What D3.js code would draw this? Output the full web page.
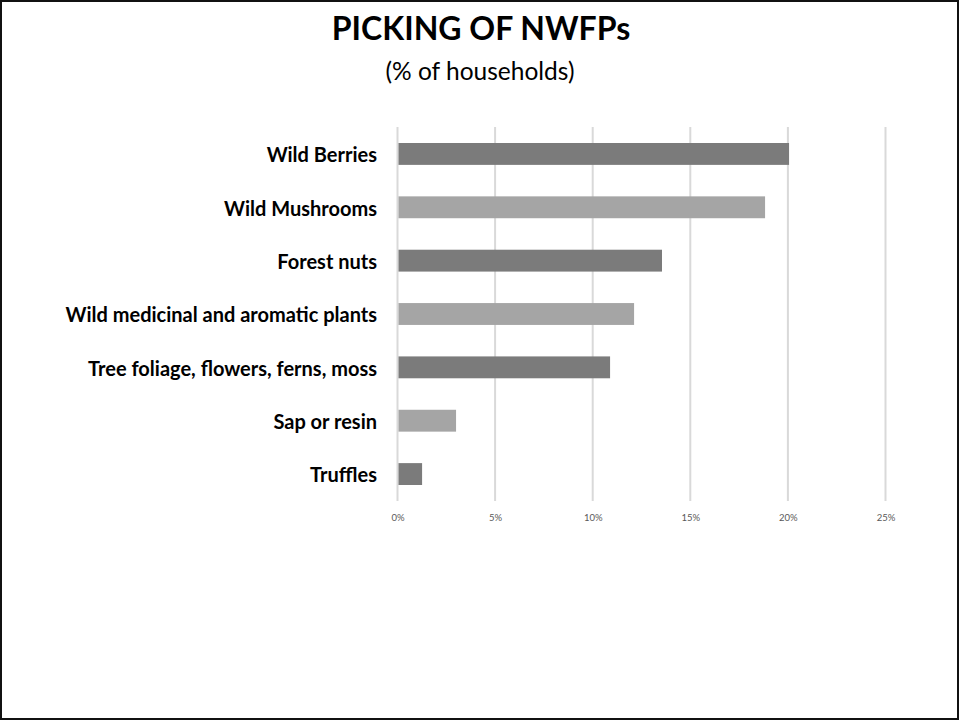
<!DOCTYPE html>
<html>
<head>
<meta charset="utf-8">
<script src="https://cdn.jsdelivr.net/npm/d3@7"></script>
<style>
  html, body { margin: 0; padding: 0; background: #fff; }
  svg { display: block; }
</style>
</head>
<body>
<svg id="chart" width="959" height="720"></svg>
<script>
const categories = ["Wild Berries", "Wild Mushrooms", "Forest nuts", "Wild medicinal and aromatic plants", "Tree foliage, flowers, ferns, moss", "Sap or resin", "Truffles"];
const values = [20.06, 18.83, 13.55, 12.12, 10.89, 3.0, 1.26];
const tickValues = [0, 5, 10, 15, 20, 25];
const tickLabels = ["0%", "5%", "10%", "15%", "20%", "25%"];
const barColors = ["#7b7b7b", "#a5a5a5"];

const svg = d3.select("#chart");
const W = 959, H = 720;
const fontFamily = "Lato, 'Open Sans', 'Liberation Sans', sans-serif";

// border
svg.append("rect").attr("x", 1).attr("y", 1).attr("width", W - 2).attr("height", H - 2)
  .attr("fill", "#fff").attr("stroke", "#111").attr("stroke-width", 2);

// title
svg.append("text").attr("x", 481).attr("y", 40).attr("text-anchor", "middle")
  .attr("font-family", fontFamily).attr("font-weight", "bold").attr("font-size", 32)
  .attr("fill", "#000").text("PICKING OF NWFPs");
svg.append("text").attr("x", 480).attr("y", 80).attr("text-anchor", "middle")
  .attr("font-family", fontFamily).attr("font-size", 24.5)
  .attr("fill", "#000").text("(% of households)");

const x = d3.scaleLinear().domain([0, 25]).range([397.5, 885.5]);
const y = d3.scaleBand().domain(categories).range([127, 501]).paddingInner(0.59).paddingOuter(0.3);

// gridlines
svg.append("g").selectAll("line").data(tickValues).join("line")
  .attr("x1", d => x(d)).attr("x2", d => x(d))
  .attr("y1", 127).attr("y2", 501)
  .attr("stroke", "#d9d9d9").attr("stroke-width", 2);

// bars
svg.append("g").selectAll("rect").data(categories).join("rect")
  .attr("x", x(0) + 1)
  .attr("y", d => y(d))
  .attr("width", (d, i) => x(values[i]) - x(0) - 1)
  .attr("height", y.bandwidth())
  .attr("fill", (d, i) => barColors[i % 2]);

// x axis tick labels
const xAxis = d3.axisBottom(x).tickValues(tickValues).tickSize(0)
  .tickFormat((d, i) => tickLabels[i]);
const gx = svg.append("g").attr("transform", "translate(0,511)").call(xAxis);
gx.select(".domain").remove();
gx.selectAll("text").attr("font-family", fontFamily).attr("font-size", 9.5).attr("fill", "#595959");

// y axis category labels
const yAxis = d3.axisLeft(y).tickSize(0).tickPadding(0);
const gy = svg.append("g").attr("transform", "translate(377,2)").call(yAxis);
gy.select(".domain").remove();
gy.selectAll("text").attr("font-family", fontFamily).attr("font-weight", "bold")
  .attr("font-size", 20).attr("fill", "#000");
</script>
</body>
</html>
